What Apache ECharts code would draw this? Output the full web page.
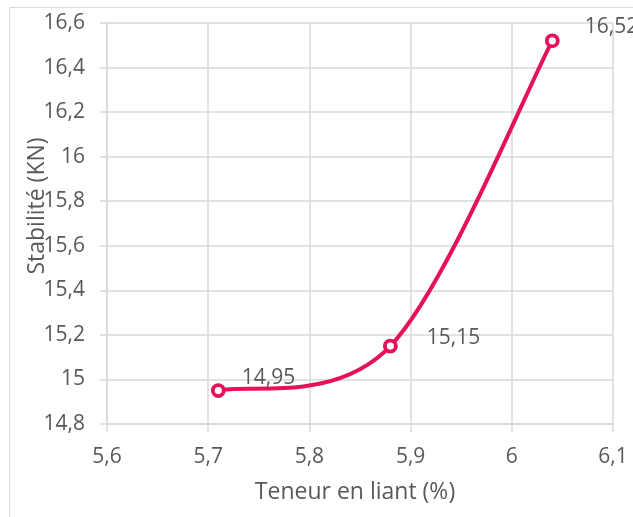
<!DOCTYPE html>
<html>
<head>
<meta charset="utf-8">
<script src="https://cdn.jsdelivr.net/npm/echarts@6/dist/echarts.min.js"></script>
<style>
  html, body { margin: 0; padding: 0; background: #fff; }
  #chart { width: 633px; height: 517px; }
</style>
</head>
<body>
<div id="chart"></div>
<script>
// Binder content (%) versus Marshall stability (kN)
const binderContent = [5.71, 5.88, 6.04];
const stability = [14.95, 15.15, 16.52];
const labelOffsets = [[11, -13], [24, -8], [20, -14]];

const xTitle = 'Teneur en liant (%)';
const yTitle = 'Stabilité (KN)';

const FONT = '"Open Sans", sans-serif';
const TEXT = '#595959';
const GRID = '#d9d9d9';
const LINE = '#e6105c';

const fmt = v => (Math.round(v * 100) / 100).toString().replace('.', ',');

const points = binderContent.map((x, i) => [x, stability[i]]);

// Smoothed spline through the points: cubic Bezier segments whose control
// points follow the neighbouring points (tension 1/6, ends duplicated).
function splinePath(px) {
  const n = px.length;
  const at = i => px[Math.max(0, Math.min(n - 1, i))];
  let d = 'M' + px[0][0] + ' ' + px[0][1];
  for (let i = 0; i < n - 1; i++) {
    const p0 = at(i - 1), p1 = at(i), p2 = at(i + 1), p3 = at(i + 2);
    const c1 = [p1[0] + (p2[0] - p0[0]) / 6, p1[1] + (p2[1] - p0[1]) / 6];
    const c2 = [p2[0] - (p3[0] - p1[0]) / 6, p2[1] - (p3[1] - p1[1]) / 6];
    d += ' C' + c1[0] + ' ' + c1[1] + ' ' + c2[0] + ' ' + c2[1] + ' ' + p2[0] + ' ' + p2[1];
  }
  return d;
}

const chart = echarts.init(document.getElementById('chart'), null, { renderer: 'canvas' });

chart.setOption({
  animation: false,
  backgroundColor: '#fff',
  graphic: [{
    type: 'rect',
    shape: { x: 9.5, y: 7.5, width: 700, height: 600 },
    style: { fill: 'none', stroke: GRID, lineWidth: 1 },
    silent: true
  }],
  grid: { left: 107, right: 20, top: 23, bottom: 93, containLabel: false },
  xAxis: {
    type: 'value',
    min: 5.6, max: 6.1, interval: 0.1,
    name: xTitle,
    nameLocation: 'middle',
    nameGap: 57,
    nameMoveOverlap: false,
    nameTextStyle: { color: TEXT, fontFamily: FONT, fontSize: 23, padding: [0, 10, 0, 0] },
    axisLine: { show: true, lineStyle: { color: GRID, width: 1.5 } },
    axisTick: { show: true, length: 8, lineStyle: { color: GRID, width: 1.5 } },
    axisLabel: { color: TEXT, fontFamily: FONT, fontSize: 21, margin: 23, formatter: fmt },
    splitLine: { show: true, lineStyle: { color: GRID, width: 1.5 } }
  },
  yAxis: {
    type: 'value',
    min: 14.8, max: 16.6, interval: 0.2,
    name: yTitle,
    nameLocation: 'middle',
    nameGap: 58,
    nameRotate: 90,
    nameMoveOverlap: false,
    nameTextStyle: { color: TEXT, fontFamily: FONT, fontSize: 23, padding: [0, 0, 0, 35] },
    axisLine: { show: true, lineStyle: { color: GRID, width: 1.5 } },
    axisTick: { show: true, length: 7, lineStyle: { color: GRID, width: 1.5 } },
    axisLabel: { color: TEXT, fontFamily: FONT, fontSize: 21, margin: 22, formatter: fmt },
    splitLine: { show: true, lineStyle: { color: GRID, width: 1.5 } }
  },
  series: [
    {
      type: 'custom',
      data: points,
      encode: { x: 0, y: 1 },
      clip: false,
      z: 2,
      renderItem: (params, api) => {
        if (params.dataIndex !== 0) return null;
        const px = points.map(p => api.coord(p));
        return {
          type: 'path',
          shape: { pathData: splinePath(px) },
          style: { fill: 'none', stroke: LINE, lineWidth: 4, lineCap: 'round', lineJoin: 'round' }
        };
      }
    },
    {
      type: 'scatter',
      data: points.map((p, i) => ({ value: p, label: { offset: labelOffsets[i] } })),
      symbol: 'circle',
      symbolSize: 11,
      itemStyle: { color: '#fff', borderColor: LINE, borderWidth: 3.8, opacity: 1 },
      label: {
        show: true,
        position: 'right',
        distance: 5,
        color: TEXT,
        fontFamily: FONT,
        fontSize: 21,
        formatter: p => fmt(p.value[1])
      },
      clip: false,
      z: 3
    }
  ]
});
</script>
</body>
</html>
